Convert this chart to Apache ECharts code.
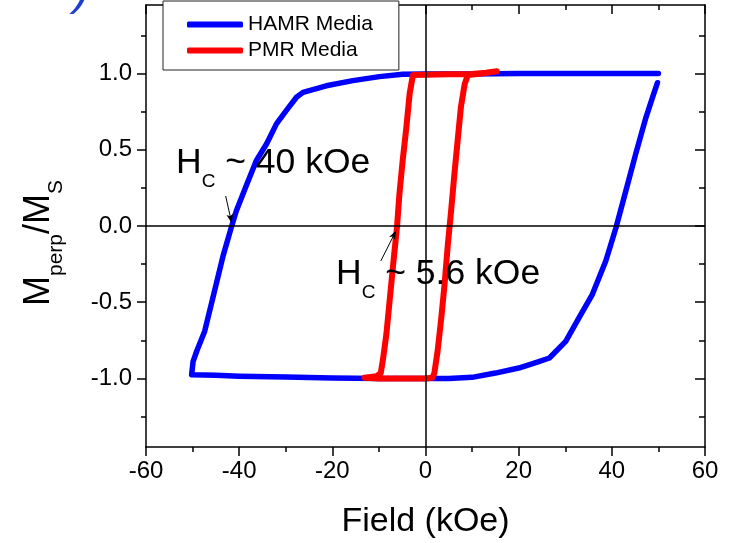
<!DOCTYPE html>
<html><head><meta charset="utf-8">
<script src="https://cdn.jsdelivr.net/npm/echarts@6/dist/echarts.min.js"></script>
<style>html,body{margin:0;padding:0;background:#fff}#c{width:738px;height:543px}</style>
</head><body><div id="c"></div>
<script>
// ---- data ----
const seriesNames = ['HAMR Media', 'PMR Media'];
const hamrField = [50, 45, 40, 30, 20, 10, 0, -4.9, -9.9, -15.6, -21.3, -26.3, -27.7, -29.9, -32, -34.1, -36.3, -38.4, -40.6, -41.6, -43.4, -45.4, -47.4, -49.1, -49.9, -50.2, -45, -40, -30, -20, -10, 0, 5, 10, 15, 20, 24, 26.6, 30.1, 33, 35.8, 38.7, 40.9, 43, 45.1, 47.3, 48.7, 49.8];
const hamrM = [1.0, 1.0, 1.0, 1.0, 1.0, 0.998, 0.997, 0.995, 0.98, 0.954, 0.92, 0.877, 0.845, 0.757, 0.67, 0.54, 0.43, 0.27, 0.1, 0, -0.19, -0.44, -0.69, -0.82, -0.89, -0.976, -0.98, -0.985, -0.99, -0.998, -1.0, -1.0, -1.0, -0.993, -0.965, -0.932, -0.893, -0.866, -0.757, -0.6, -0.45, -0.23, -0.01, 0.23, 0.47, 0.71, 0.84, 0.94];
const pmrField = [15.3, 13, 10, 5, 0, -2.7, -3.4, -4.1, -4.9, -5.6, -6.1, -7, -7.7, -8.4, -9.1, -9.6, -10.5, -13.1, -10, -5, 0, 1.5, 1.9, 2.6, 3.4, 4.1, 4.8, 5.5, 6.2, 6.9, 7.6, 8.4, 9.1, 12, 15.3];
const pmrM = [1.015, 1.005, 0.998, 0.995, 0.993, 0.99, 0.87, 0.65, 0.43, 0.21, 0, -0.27, -0.49, -0.71, -0.87, -0.965, -0.985, -0.995, -1.0, -1.0, -1.0, -0.995, -0.965, -0.82, -0.6, -0.38, -0.12, 0.1, 0.34, 0.56, 0.78, 0.93, 0.99, 1.0, 1.015];
const xMin = -60, xMax = 60, xStep = 20;
const yMin = -1.45, yMax = 1.45;
const yMajorTicks = [-1, -0.5, 0, 0.5, 1];
const yMinorTicks = [-1.25, -0.75, -0.25, 0.25, 0.75, 1.25];
// annotation arrows (data space): [fromX, fromY, toX, toY]
const arrowHamr = [-42.9, 0.197, -41.6, 0.02];
const arrowPmr = [-9.6, -0.23, -6.3, -0.03];

const FONT = '"Liberation Sans", Arial, sans-serif';
const BLACK = '#000';
const pairs = (xs, ys) => xs.map((x, i) => [x, ys[i]]);

const axisLineStyle = { color: BLACK, width: 1.5 };
function xAx(pos, inside, labels) {
  return {
    type: 'value', position: pos, min: xMin, max: xMax, interval: xStep,
    axisLine: { show: true, onZero: false, lineStyle: axisLineStyle },
    axisTick: { show: true, inside: inside, length: 9, lineStyle: axisLineStyle },
    minorTick: { show: true, splitNumber: 2, length: 5, lineStyle: axisLineStyle },
    splitLine: { show: false },
    axisLabel: { show: labels, color: BLACK, fontSize: 24, fontFamily: FONT, margin: 12 },
    name: labels ? 'Field (kOe)' : '', nameLocation: 'middle', nameGap: 58,
    nameTextStyle: { color: BLACK, fontSize: 34, fontFamily: FONT }
  };
}
function yAx(pos, inside, ticks, len, labels, line) {
  return {
    type: 'value', position: pos, min: yMin, max: yMax,
    axisLine: { show: line, onZero: false, lineStyle: axisLineStyle },
    axisTick: { show: true, inside: inside, length: len, customValues: ticks, lineStyle: axisLineStyle },
    minorTick: { show: false },
    splitLine: { show: false },
    axisLabel: { show: labels, customValues: ticks, color: BLACK, fontSize: 24, fontFamily: FONT, margin: 14,
      formatter: v => v.toFixed(1) }
  };
}
function hcRich(text, x, y) {
  return {
    type: 'text', x: x, y: y, z: 20,
    style: {
      text: '{h|H}{s|C}{h| ' + text + '}', verticalAlign: 'top',
      rich: {
        h: { fontSize: 35.5, fontFamily: FONT, fill: BLACK, verticalAlign: 'bottom', padding: [0, 0, 10, 0] },
        s: { fontSize: 19, fontFamily: FONT, fill: BLACK, verticalAlign: 'bottom' }
      }
    }
  };
}

const chart = echarts.init(document.getElementById('c'), null, { renderer: 'canvas' });
chart.setOption({
  animation: false,
  backgroundColor: '#fff',
  grid: { left: 146, top: 5, right: 33, bottom: 96, containLabel: false, outerBoundsMode: 'none' },
  xAxis: [xAx('bottom', false, true), xAx('top', true, false)],
  yAxis: [
    yAx('left', false, yMajorTicks, 9, true, true),
    yAx('left', false, yMinorTicks, 5, false, false),
    yAx('right', true, yMajorTicks, 10, false, true),
    yAx('right', true, yMinorTicks, 6, false, false)
  ],
  legend: {
    data: seriesNames, orient: 'vertical', left: 163, top: 1,
    padding: [13, 26, 9, 24], itemGap: 5, itemWidth: 56, itemHeight: 6,
    icon: 'roundRect', borderColor: '#222', borderWidth: 1, backgroundColor: '#fff', borderRadius: 0,
    textStyle: { color: BLACK, fontSize: 21, fontFamily: FONT }, z: 10
  },
  series: [
    {
      type: 'line', name: '_zero', data: [[0, 0]], symbol: 'none', lineStyle: { opacity: 0 }, z: 1, silent: true,
      markLine: {
        silent: true, symbol: 'none', label: { show: false },
        lineStyle: { color: BLACK, width: 1.5, type: 'solid' },
        data: [{ xAxis: 0 }, { yAxis: 0 }]
      }
    },
    {
      type: 'line', name: seriesNames[0], data: pairs(hamrField, hamrM), symbol: 'none', z: 3,
      color: '#0000ff', lineStyle: { color: '#0000ff', width: 5.5, cap: 'round', join: 'round' }
    },
    {
      type: 'line', name: seriesNames[1], data: pairs(pmrField, pmrM), symbol: 'none', z: 4,
      color: '#ff0000', lineStyle: { color: '#ff0000', width: 6, cap: 'round', join: 'round' }
    },
    {
      type: 'line', name: '_arrows', data: [], symbol: 'none', z: 5, silent: true,
      markLine: {
        silent: true, symbol: ['none', 'arrow'], symbolSize: [5, 9], label: { show: false },
        lineStyle: { color: BLACK, width: 1, type: 'solid' },
        data: [
          [{ coord: [arrowHamr[0], arrowHamr[1]] }, { coord: [arrowHamr[2], arrowHamr[3]] }],
          [{ coord: [arrowPmr[0], arrowPmr[1]] }, { coord: [arrowPmr[2], arrowPmr[3]] }]
        ]
      }
    }
  ],
  graphic: [
    { type: 'text', x: 74, y: -33, z: 20, style: { text: ')', fontSize: 48, fontStyle: 'italic', fontFamily: FONT, fill: '#1f3fd0' } },
    hcRich('~ 40 kOe', 176, 145),
    hcRich('~ 5.6 kOe', 336, 256),
    {
      type: 'text', x: 44, y: 243, rotation: Math.PI / 2, z: 20,
      style: {
        text: '{m|M}{s|perp}{m|/M}{s|S}', align: 'center', verticalAlign: 'middle',
        rich: {
          m: { fontSize: 36, fontFamily: FONT, fill: BLACK, verticalAlign: 'bottom', padding: [0, 0, 10, 0] },
          s: { fontSize: 21, fontFamily: FONT, fill: BLACK, verticalAlign: 'bottom' }
        }
      }
    }
  ]
});
</script>
</body></html>
